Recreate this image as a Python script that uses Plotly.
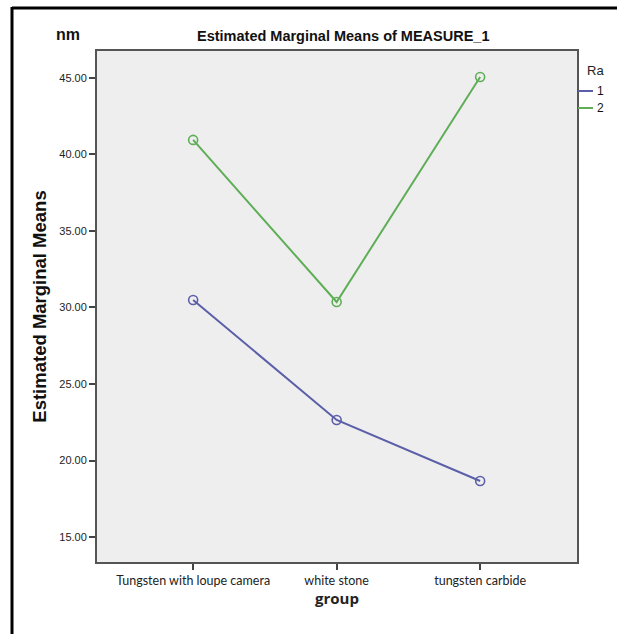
import plotly.graph_objects as go

groups = ["Tungsten with loupe camera", "white stone", "tungsten carbide"]
ra1 = [30.49, 22.65, 18.66]
ra2 = [40.95, 30.36, 45.06]
yticks = [15, 20, 25, 30, 35, 40, 45]
series_names = ["1", "2"]
colors = ["#5b5fa8", "#5fae57"]

W, H = 617, 634
L, R, T, B = 97, 40, 51, 72
pw, ph = W - L - R, H - T - B

def px_x(p):
    return (p - L) / pw

def px_y(p):
    return 1 - (p - T) / ph

fig = go.Figure()
for name, vals, col in zip(series_names, [ra1, ra2], colors):
    fig.add_trace(go.Scatter(
        x=list(range(len(groups))), y=vals, mode="lines+markers", name=name,
        line=dict(color=col, width=2),
        marker=dict(symbol="circle-open", size=9, color=col, line=dict(width=1.6, color=col)),
        showlegend=False,
    ))

fig.update_layout(
    width=W, height=H,
    margin=dict(l=L, r=R, t=T, b=B),
    paper_bgcolor="white",
    plot_bgcolor="#eeeeee",
    xaxis=dict(
        range=[-0.67, 2.675], tickmode="array", tickvals=list(range(len(groups))),
        ticktext=groups, ticks="outside", ticklen=6, tickcolor="#444", tickwidth=1.5,
        showgrid=False, zeroline=False, showline=True, linecolor="#555", linewidth=2, mirror=True,
        tickfont=dict(family="Lato", size=12.5, color="#222"),
        title=dict(text="<b>group</b>", font=dict(family="Open Sans", size=15, color="#222"), standoff=4),
    ),
    yaxis=dict(
        range=[13.37, 46.76], tickmode="array", tickvals=yticks,
        ticktext=[f"{v:.2f}" for v in yticks], ticks="outside", ticklen=6, tickcolor="#444", tickwidth=1.5,
        showgrid=False, zeroline=False, showline=True, linecolor="#555", linewidth=2, mirror=True,
        tickfont=dict(family="Liberation Sans", size=11, color="#222"),
        title=dict(text="<b>Estimated Marginal Means</b>", font=dict(family="Liberation Sans", size=18.5, color="#111"), standoff=8),
    ),
    font=dict(family="Liberation Sans"),
)

annotations = [
    dict(text="<b>Estimated Marginal Means of MEASURE_1</b>", x=px_x(343), y=px_y(36),
         xref="paper", yref="paper", showarrow=False, xanchor="center", yanchor="middle",
         font=dict(family="Liberation Sans", size=14.5, color="#111")),
    dict(text="<b>nm</b>", x=px_x(54), y=px_y(34), xref="paper", yref="paper", showarrow=False,
         xanchor="left", yanchor="middle", font=dict(family="Liberation Sans", size=16, color="#111")),
    dict(text="Ra", x=px_x(585), y=px_y(70), xref="paper", yref="paper", showarrow=False,
         xanchor="left", yanchor="middle", font=dict(family="Liberation Sans", size=13, color="#222")),
]
shapes = []
for i, (name, col) in enumerate(zip(series_names, colors)):
    yy = px_y(91 + 17 * i)
    shapes.append(dict(type="line", xref="paper", yref="paper", x0=px_x(578), x1=px_x(593), y0=yy, y1=yy,
                       line=dict(color=col, width=2)))
    annotations.append(dict(text=name, x=px_x(595), y=yy, xref="paper", yref="paper", showarrow=False,
                            xanchor="left", yanchor="middle", font=dict(family="Liberation Sans", size=12, color="#111")))

# outer frame (top and left edges)
shapes.append(dict(type="line", xref="paper", yref="paper", x0=px_x(12), x1=px_x(617), y0=px_y(8), y1=px_y(8),
                   line=dict(color="black", width=3)))
shapes.append(dict(type="line", xref="paper", yref="paper", x0=px_x(12), x1=px_x(12), y0=px_y(7), y1=px_y(634),
                   line=dict(color="black", width=3)))

fig.update_layout(annotations=annotations, shapes=shapes)
fig.write_html("out.html", config={"displayModeBar": False},
               post_script="document.body.style.margin='0px';document.body.style.overflow='hidden';")
